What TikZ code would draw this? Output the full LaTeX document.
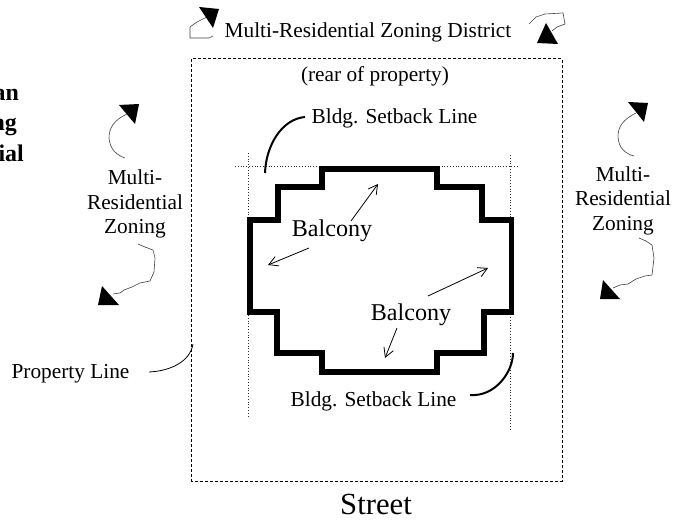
\documentclass[tikz,border=0pt]{standalone}
\usepackage{fontspec}
\setmainfont{Liberation Serif}
\usetikzlibrary{arrows.meta}
\tikzset{
 lab/.style={font=\fontsize{21.4}{21.4}\selectfont,inner sep=0pt,anchor=base},
 big/.style={font=\fontsize{24.2}{24.2}\selectfont,inner sep=0pt,anchor=base},
 huge/.style={font=\fontsize{30.8}{30.8}\selectfont,inner sep=0pt,anchor=base},
 boldlab/.style={font=\fontsize{24}{24}\selectfont\bfseries,inner sep=0pt,anchor=base east},
 bldg/.style={line width=5.5bp,line join=miter},
 setback/.style={line width=0.8bp,dotted,black!80},
 prop/.style={line width=1bp,dash pattern=on 3bp off 2bp},
 wig/.style={line width=0.6bp,black!75},
 tri/.style={fill=black,draw=none},
 thick leader/.style={line width=2bp},
 leader/.style={line width=0.8bp,-{Straight Barb[length=9bp,width=10bp,line width=0.8bp]}},
}
\begin{document}
\begin{tikzpicture}[x=1bp,y=-1bp]
\useasboundingbox (0,0) rectangle (674,520);
% property line
\coordinate (pnw) at (191.5,59); \coordinate (pse) at (562,481);
\draw[prop] (pnw) rectangle (pse);
% setback lines
\coordinate (sh1) at (235,166.5); \coordinate (sh2) at (519,166.5);
\coordinate (sl1) at (248,153); \coordinate (sl2) at (248,418);
\coordinate (sr1) at (510,155); \coordinate (sr2) at (510,429);
\draw[setback] (sh1) -- (sh2);
\draw[setback] (sl1) -- (sl2);
\draw[setback] (sr1) -- (sr2);
% building
\draw[bldg] (250,220) -- (278,220) -- (278,187) -- (322,187) -- (322,169) -- (437,169) -- (437,187) -- (482,187) -- (482,220) -- (511.5,220) -- (511.5,312) -- (484,312) -- (484,353) -- (437,353) -- (437,372) -- (322,372) -- (322,353) -- (277,353) -- (277,312) -- (250,312) -- cycle;
% texts
\node[lab] (district) at (368,38) {Multi-Residential Zoning District};
\node[lab] (rear) at (375,82) {(rear of property)};
\node[lab] (sbtop) at (394.5,124) {Bldg. Setback Line};
\node[lab] (ml1) at (135,185) {Multi-};
\node[lab] (ml2) at (135,210) {Residential};
\node[lab] (ml3) at (135,234) {Zoning};
\node[lab] (mr1) at (623,182) {Multi-};
\node[lab] (mr2) at (623,206) {Residential};
\node[lab] (mr3) at (623,231) {Zoning};
\node[big] (balc1) at (332,237) {Balcony};
\node[big] (balc2) at (411,320) {Balcony};
\node[lab] (pl) at (70.5,378) {Property Line};
\node[lab] (sbbot) at (373.5,406) {Bldg. Setback Line};
\node[huge] (street) at (376,514) {Street};
\node[boldlab] (t1) at (19,100.5) {an};
\node[boldlab] (t2) at (17,131) {ng};
\node[boldlab] (t3) at (24,161.5) {ial};
% leaders
\coordinate (a1s) at (351,221); \coordinate (a1e) at (378,184);
\coordinate (a2s) at (309,248); \coordinate (a2e) at (268,265);
\coordinate (a3s) at (428,296); \coordinate (a3e) at (488,268);
\coordinate (a4s) at (397,328); \coordinate (a4e) at (385,358);
\draw[leader] (a1s) -- (a1e);
\draw[leader] (a2s) -- (a2e);
\draw[leader] (a3s) -- (a3e);
\draw[leader] (a4s) -- (a4e);
\coordinate (lp1) at (149,372); \coordinate (lp2) at (193,344);
\draw[line width=0.8bp] (lp1) .. controls (170,371) and (190,362) .. (lp2);
\coordinate (lt1) at (305,117); \coordinate (lt2) at (265,173);
\draw[thick leader] (lt1) .. controls (282,119) and (266,145) .. (lt2);
\coordinate (lb1) at (470,395); \coordinate (lb2) at (513,353);
\draw[thick leader] (lb1) .. controls (495,397) and (513,372) .. (lb2);
% rotation arrows
\draw[wig] (213,36) -- (209,38) -- (190,38) -- (190,27) -- (197,22) -- (205,18) -- (209,16);
\fill[tri] (199,7) -- (219,9) -- (213,28) -- cycle;
\draw[wig] (529,24) -- (536,17) -- (545,14) -- (563,13) -- (565,24) -- (557,27) -- (552,31);
\fill[tri] (537,43) -- (558,44) -- (546,23) -- cycle;
\draw[wig] (125,158) .. controls (117,155) and (110,150) .. (109,138) .. controls (109,128) and (114,120) .. (127,114);
\fill[tri] (119,105) -- (139,104) -- (135,124) -- cycle;
\draw[wig] (634,156) .. controls (626,154) and (618,148) .. (618,136) .. controls (618,126) and (624,119) .. (636,113);
\fill[tri] (628,102) -- (648,103) -- (644,122) -- cycle;
\draw[wig] (138,244) -- (145,247) -- (153,250) -- (155,258) -- (154,272) -- (150,281) -- (140,283) -- (132,287) -- (124,290) -- (120,293) -- (113,294);
\fill[tri] (102,286) -- (98,305) -- (119,305) -- cycle;
\draw[wig] (639,238) -- (646,241) -- (652,245) -- (654,258) -- (652,275) -- (645,276) -- (636,279) -- (628,284) -- (620,285) -- (613,288);
\fill[tri] (603,280) -- (600,299) -- (620,299) -- cycle;
\end{tikzpicture}
\end{document}
